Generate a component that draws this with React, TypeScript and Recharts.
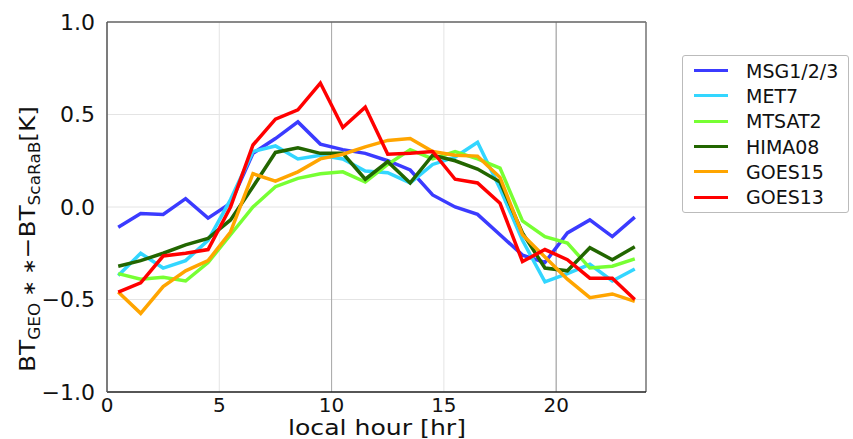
import React from 'react';
import { LineChart, Line, XAxis, YAxis, CartesianGrid, ReferenceLine } from 'recharts';

const hours = [0.5, 1.5, 2.5, 3.5, 4.5, 5.5, 6.5, 7.5, 8.5, 9.5, 10.5, 11.5, 12.5, 13.5, 14.5, 15.5, 16.5, 17.5, 18.5, 19.5, 20.5, 21.5, 22.5, 23.5];

const msg = [-0.11, -0.035, -0.04, 0.045, -0.06, 0.02, 0.29, 0.37, 0.46, 0.34, 0.31, 0.29, 0.25, 0.2, 0.065, 0.0, -0.04, -0.15, -0.26, -0.3, -0.14, -0.07, -0.16, -0.055];
const met7 = [-0.37, -0.25, -0.33, -0.29, -0.18, 0.04, 0.3, 0.33, 0.26, 0.28, 0.26, 0.195, 0.185, 0.13, 0.23, 0.27, 0.35, 0.1, -0.18, -0.405, -0.36, -0.31, -0.4, -0.335];
const mtsat2 = [-0.36, -0.39, -0.38, -0.4, -0.3, -0.15, 0.0, 0.11, 0.155, 0.18, 0.19, 0.135, 0.23, 0.31, 0.26, 0.3, 0.26, 0.21, -0.075, -0.16, -0.195, -0.33, -0.32, -0.28];
const hima08 = [-0.32, -0.29, -0.25, -0.205, -0.17, -0.07, 0.11, 0.295, 0.32, 0.29, 0.29, 0.15, 0.245, 0.13, 0.28, 0.25, 0.205, 0.135, -0.14, -0.33, -0.345, -0.22, -0.285, -0.215];
const goes15 = [-0.46, -0.575, -0.43, -0.345, -0.29, -0.135, 0.18, 0.14, 0.19, 0.26, 0.285, 0.325, 0.36, 0.37, 0.3, 0.28, 0.275, 0.16, -0.15, -0.27, -0.39, -0.49, -0.47, -0.51];
const goes13 = [-0.46, -0.41, -0.265, -0.25, -0.23, 0.0, 0.335, 0.475, 0.525, 0.67, 0.43, 0.54, 0.285, 0.29, 0.3, 0.15, 0.13, 0.02, -0.295, -0.23, -0.285, -0.385, -0.385, -0.5];

const xTicks = [0, 5, 10, 15, 20];
const yTicks = [-1, -0.5, 0, 0.5, 1];

const series = [
  { key: 'msg', name: 'MSG1/2/3', color: '#3b3bff', values: msg },
  { key: 'met7', name: 'MET7', color: '#33d6ff', values: met7 },
  { key: 'mtsat2', name: 'MTSAT2', color: '#77ff33', values: mtsat2 },
  { key: 'hima08', name: 'HIMA08', color: '#226600', values: hima08 },
  { key: 'goes15', name: 'GOES15', color: '#ffa500', values: goes15 },
  { key: 'goes13', name: 'GOES13', color: '#ff0000', values: goes13 },
];

const data = hours.map((h, i) => {
  const row: Record<string, number> = { hour: h };
  series.forEach((s) => { row[s.key] = s.values[i]; });
  return row;
});

const font = 'DejaVu Sans, sans-serif';

const fmtY = (v: number) => (v < 0 ? '\u2212' + Math.abs(v).toFixed(1) : v.toFixed(1));

const LegendBox = () => (
  <div style={{ position: 'absolute', left: 682, top: 55, border: '1px solid #bbb', borderRadius: 3, background: '#fff', width: 167, height: 158, boxSizing: 'border-box', paddingTop: 2 }}>
    {series.map((s) => (
      <div key={s.key} style={{ display: 'flex', alignItems: 'center', height: 25.3, fontFamily: font, fontSize: 19, color: '#111' }}>
        <div style={{ width: 34, height: 3, background: s.color, marginLeft: 11, marginRight: 18 }} />
        <span>{s.name}</span>
      </div>
    ))}
  </div>
);

const YLabel = () => (
  <text
    x={35}
    y={372}
    transform="rotate(-90, 35, 372)"
    fontFamily={font}
    fontSize={22}
    fill="#111"
    textLength={266}
    lengthAdjust="spacingAndGlyphs"
  >
    BT<tspan fontSize={15} dy={5}>GEO</tspan>
    <tspan fontSize={17} dy={-5}>{' \u2217 \u2217'}</tspan>
    <tspan>{'\u2212BT'}</tspan>
    <tspan fontSize={15} dy={5}>ScaRaB</tspan>
    <tspan dy={-5}>[K]</tspan>
  </text>
);

const XLabel = () => (
  <text x={377} y={435} textAnchor="middle" fontFamily={font} fontSize={22} fill="#111" textLength={178} lengthAdjust="spacingAndGlyphs">
    local hour [hr]
  </text>
);

export default function App() {
  return (
    <div style={{ position: 'absolute', left: 0, top: 0, width: 853, height: 439, background: '#fff' }}>
      <LineChart width={853} height={439} data={data} margin={{ top: 22, right: 207, bottom: 0, left: 47 }}>
        <CartesianGrid stroke="#e4e4e4" strokeWidth={1} />
        <XAxis
          dataKey="hour"
          type="number"
          domain={[0, 24]}
          ticks={xTicks}
          height={47}
          tickLine={false}
          tickMargin={0}
          axisLine={{ stroke: '#222', strokeWidth: 1.5 }}
          tick={{ fontFamily: font, fontSize: 20, fill: '#111' }}
          label={<XLabel />}
        />
        <YAxis
          type="number"
          domain={[-1, 1]}
          ticks={yTicks}
          width={60}
          tickLine={false}
          tickMargin={6}
          tickFormatter={fmtY}
          axisLine={{ stroke: '#555', strokeWidth: 1.5 }}
          tick={{ fontFamily: font, fontSize: 22, fill: '#111' }}
          label={<YLabel />}
        />
        <ReferenceLine x={10} stroke="#aaa" strokeWidth={1} />
        <ReferenceLine x={20} stroke="#999" strokeWidth={1} />
        <ReferenceLine y={1} stroke="#666" strokeWidth={1.5} />
        <ReferenceLine x={24} stroke="#777" strokeWidth={1.5} />
        {series.map((s) => (
          <Line
            key={s.key}
            dataKey={s.key}
            name={s.name}
            stroke={s.color}
            strokeWidth={3.5}
            dot={false}
            isAnimationActive={false}
            strokeLinejoin="miter"
          />
        ))}
      </LineChart>
      <LegendBox />
    </div>
  );
}
